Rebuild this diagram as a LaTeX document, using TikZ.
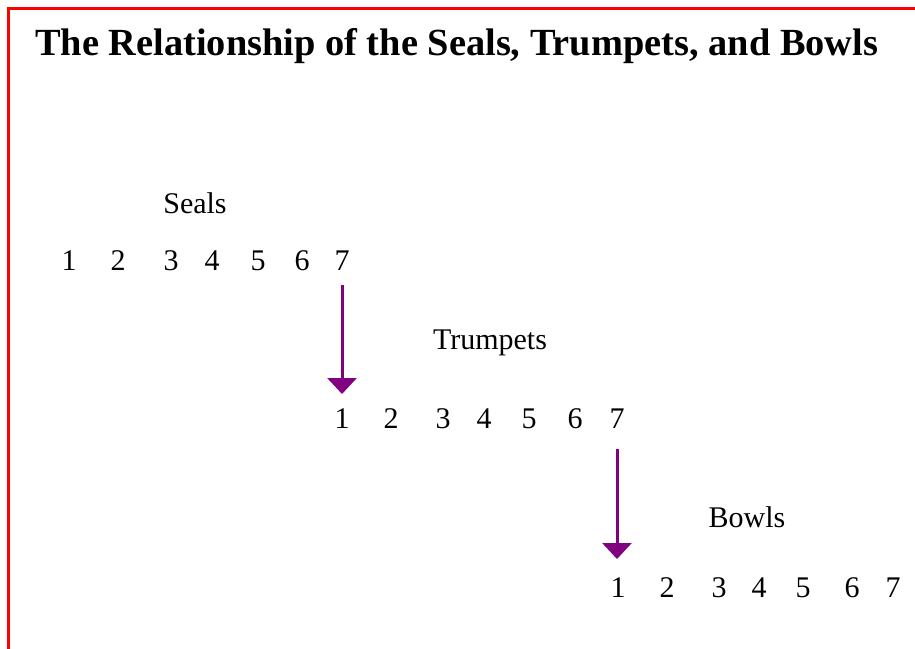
\documentclass[tikz,border=0pt]{standalone}
\usepackage{fontspec}
\setmainfont{Liberation Serif}
\usetikzlibrary{arrows.meta}
\definecolor{framered}{HTML}{FF0000}
\definecolor{arrowpurple}{HTML}{800080}
\tikzset{
  titletext/.style={anchor=base west, inner sep=0pt, font=\fontsize{38.4}{40}\selectfont\bfseries},
  labeltext/.style={anchor=base, inner sep=0pt, font=\fontsize{30}{32}\selectfont},
  digit/.style={anchor=base, inner sep=0pt, font=\fontsize{30}{32}\selectfont},
  purplearrow/.style={draw=arrowpurple, line width=3pt, -{Triangle[width=29pt,length=16pt]}},
  frameline/.style={draw=framered, line width=2.5pt}
}
\begin{document}
\begin{tikzpicture}[x=1pt,y=-1pt]
\useasboundingbox (0,0) rectangle (915,648);
\fill[white] (0,0) rectangle (915,648);
\draw[frameline] (8.5,660) -- (8.5,8.5) -- (925,8.5);
\node[titletext] (title) at (35,55) {The Relationship of the Seals, Trumpets, and Bowls};
% Seals
\node[labeltext] (seals) at (195,213) {Seals};
\foreach \d/\x in {1/69,2/118,3/171,4/212,5/258,6/302,7/342}
  \node[digit] (s\d) at (\x,270) {\d};
% Trumpets
\node[labeltext] (trumpets) at (490,349) {Trumpets};
\foreach \d/\x in {1/342,2/391,3/443,4/484,5/529,6/575,7/617}
  \node[digit] (t\d) at (\x,428) {\d};
% Bowls
\node[labeltext] (bowls) at (747,527) {Bowls};
\foreach \d/\x in {1/618,2/667,3/719,4/759,5/803,6/852,7/893}
  \node[digit] (b\d) at (\x,597) {\d};
% arrows
\draw[purplearrow] ([yshift=-15pt]s7.south) -- ([yshift=14pt]t1.north -| s7.south);
\draw[purplearrow] ([yshift=-21pt]t7.south) -- ([yshift=18pt]b1.north -| t7.south);
\end{tikzpicture}
\end{document}
